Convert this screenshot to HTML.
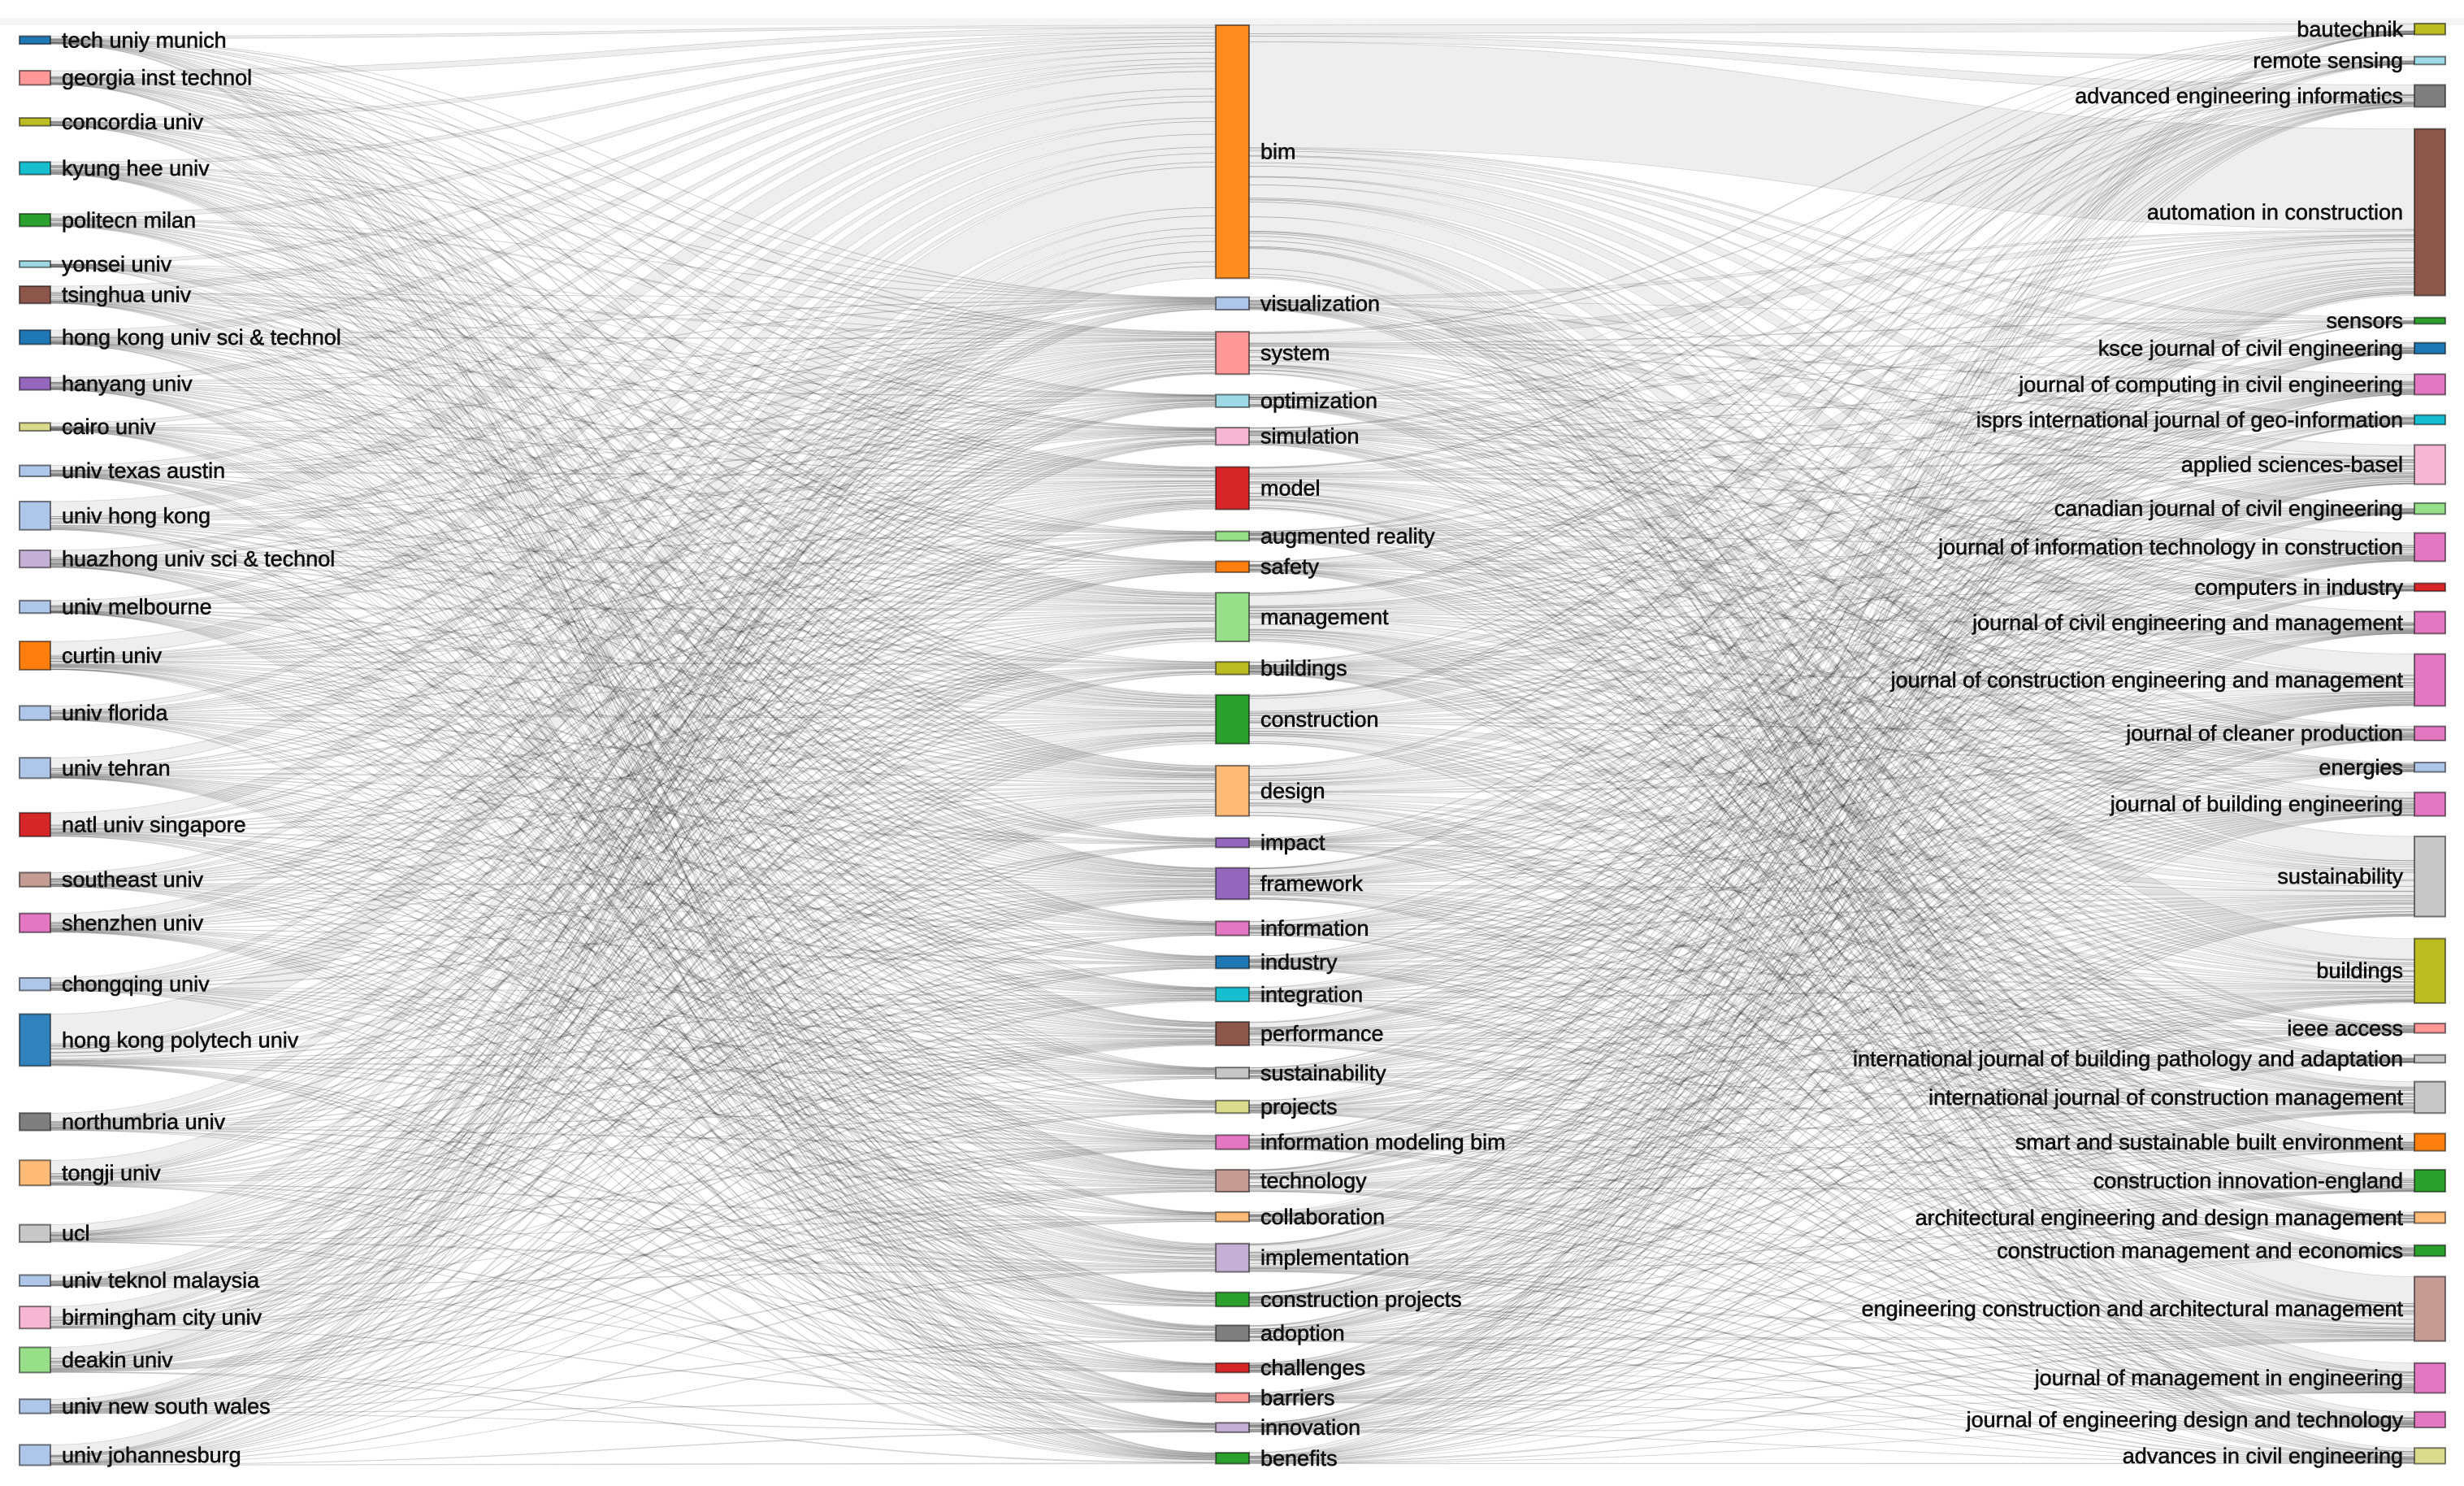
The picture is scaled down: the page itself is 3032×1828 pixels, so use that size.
<!DOCTYPE html>
<html><head><meta charset="utf-8">
<style>
html,body{margin:0;padding:0;background:#fff;}
svg{display:block;}
text{font-family:"Liberation Sans",Arial,sans-serif;font-size:27px;fill:#111;stroke:#111;stroke-width:0.6px;}
</style></head>
<body>
<svg id="s" width="3032" height="1828" viewBox="0 0 3032 1828" xmlns="http://www.w3.org/2000/svg">
<rect x="0" y="0" width="3032" height="1828" fill="#fff"/>
<rect x="0" y="22" width="3032" height="9" fill="#f4f4f4"/>
<g id="links"></g>
<g id="nodes"></g>
</svg>
<script>
var S=1.934;
var L=[
["tech uniy munich",23,28,"#1f77b4"],["georgia inst technol",45,54,"#ff9896"],["concordia univ",75,80,"#bcbd22"],
["kyung hee univ",103,111,"#17becf"],["politecn milan",136,144,"#2ca02c"],["yonsei univ",166,170,"#9edae5"],
["tsinghua univ",182,193,"#8c564b"],["hong kong univ sci & technol",210,219,"#1f77b4"],["hanyang univ",240,248,"#9467bd"],
["cairo univ",269,274,"#dbdb8d"],["univ texas austin",296,303,"#aec7e8"],["univ hong kong",319,337,"#aec7e8"],
["huazhong univ sci & technol",350,361,"#c5b0d5"],["univ melbourne",382,390,"#aec7e8"],["curtin univ",408,426,"#ff7f0e"],
["univ florida",449,458,"#aec7e8"],["univ tehran",482,495,"#aec7e8"],["natl univ singapore",517,532,"#d62728"],
["southeast univ",555,564,"#c49c94"],["shenzhen univ",581,593,"#e377c2"],["chongqing univ",622,630,"#aec7e8"],
["hong kong polytech univ",645,678,"#3182bd"],["northumbria univ",708,719,"#7f7f7f"],["tongji univ",738,754,"#ffbb78"],
["ucl",779,790,"#c7c7c7"],["univ teknol malaysia",811,818,"#aec7e8"],["birmingham city univ",831,845,"#f7b6d2"],
["deakin univ",857,873,"#98df8a"],["univ new south wales",890,899,"#aec7e8"],["univ johannesburg",919,932,"#aec7e8"]];
var M=[
["bim",16,177,"#ff8c1e"],["visualization",189,197,"#aec7e8"],["system",211,238,"#ff9896"],["optimization",251,259,"#9edae5"],
["simulation",272,283,"#f7b6d2"],["model",297,324,"#d62728"],["augmented reality",338,344,"#98df8a"],["safety",357,364,"#ff7f0e"],
["management",377,408,"#98df8a"],["buildings",421,429,"#bcbd22"],["construction",442,473,"#2ca02c"],["design",487,519,"#ffbb78"],
["impact",533,539,"#9467bd"],["framework",552,572,"#9467bd"],["information",586,595,"#e377c2"],["industry",608,616,"#1f77b4"],
["integration",628,637,"#17becf"],["performance",650,665,"#8c564b"],["sustainability",679,686,"#c7c7c7"],["projects",700,708,"#dbdb8d"],
["information modeling bim",722,731,"#e377c2"],["technology",744,758,"#c49c94"],["collaboration",771,777,"#ffbb78"],
["implementation",791,809,"#c5b0d5"],["construction projects",822,831,"#2ca02c"],["adoption",843,853,"#7f7f7f"],
["challenges",867,873,"#d62728"],["barriers",886,892,"#ff9896"],["innovation",905,911,"#c5b0d5"],["benefits",924,931,"#2ca02c"]];
var R=[
["bautechnik",15,22,"#bcbd22"],["remote sensing",36,41,"#9edae5"],["advanced engineering informatics",54,68,"#7f7f7f"],
["automation in construction",82,188,"#8c564b"],["sensors",202,206,"#2ca02c"],["ksce journal of civil engineering",218,225,"#1f77b4"],
["journal of computing in civil engineering",238,251,"#e377c2"],["isprs international journal of geo-information",264,270,"#17becf"],
["applied sciences-basel",283,308,"#f7b6d2"],["canadian journal of civil engineering",320,327,"#98df8a"],
["journal of information technology in construction",339,357,"#e377c2"],["computers in industry",371,376,"#d62728"],
["journal of civil engineering and management",389,403,"#e377c2"],["journal of construction engineering and management",416,449,"#e377c2"],
["journal of cleaner production",462,471,"#e377c2"],["energies",485,491,"#aec7e8"],["journal of building engineering",504,519,"#e377c2"],
["sustainability",532,583,"#c7c7c7"],["buildings",597,638,"#bcbd22"],["ieee access",651,657,"#ff9896"],
["international journal of building pathology and adaptation",671,676,"#c7c7c7"],["international journal of construction management",688,708,"#c7c7c7"],
["smart and sustainable built environment",721,732,"#ff7f0e"],["construction innovation-england",744,758,"#2ca02c"],
["architectural engineering and design management",771,778,"#ffbb78"],["construction management and economics",792,799,"#2ca02c"],
["engineering construction and architectural management",812,853,"#c49c94"],["journal of management in engineering",867,886,"#e377c2"],
["journal of engineering design and technology",898,908,"#e377c2"],["advances in civil engineering",921,931,"#dbdb8d"]];
var seed=12345;function rnd(){seed=(seed*1103515245+12345)%2147483648;return seed/2147483648;}
var NS="http://www.w3.org/2000/svg";
var lg=document.getElementById("links"),ng=document.getElementById("nodes");
function el(t,a,p){var e=document.createElementNS(NS,t);for(var k in a)e.setAttribute(k,a[k]);p.appendChild(e);return e;}
function flows(A,B,x0,x1,boost){
  var n=A.length,m=B.length,w=[],i,j;
  for(i=0;i<n;i++){w[i]=[];for(j=0;j<m;j++){var hb=(B[j][2]-B[j][1]);var ha=(A[i][2]-A[i][1]);
    var p=Math.min(1,0.45+hb/40);w[i][j]=(rnd()<p)?(hb*ha*(0.3+rnd())):0;}}
  boost(w);
  var rs=[],cs=[];for(i=0;i<n;i++){rs[i]=0;for(j=0;j<m;j++)rs[i]+=w[i][j];}
  for(j=0;j<m;j++){cs[j]=0;for(i=0;i<n;i++)cs[j]+=w[i][j];}
  var sy=[],ty=[];for(i=0;i<n;i++)sy[i]=A[i][1]*S;for(j=0;j<m;j++)ty[j]=B[j][1]*S;
  var sPos={};for(i=0;i<n;i++){for(j=0;j<m;j++){if(!w[i][j])continue;var hs=(A[i][2]-A[i][1])*S*w[i][j]/rs[i];sPos[i+"_"+j]=[sy[i],sy[i]+hs];sy[i]+=hs;}}
  var tPos={};for(j=0;j<m;j++){for(i=0;i<n;i++){if(!w[i][j])continue;var ht=(B[j][2]-B[j][1])*S*w[i][j]/cs[j];tPos[i+"_"+j]=[ty[j],ty[j]+ht];ty[j]+=ht;}}
  var mx=(x0+x1)/2;
  for(var k in sPos){var s=sPos[k],t=tPos[k];
    var p="M"+x0+","+s[0].toFixed(1)+"C"+mx+","+s[0].toFixed(1)+" "+mx+","+t[0].toFixed(1)+" "+x1+","+t[0].toFixed(1)+
      "L"+x1+","+t[1].toFixed(1)+"C"+mx+","+t[1].toFixed(1)+" "+mx+","+s[1].toFixed(1)+" "+x0+","+s[1].toFixed(1)+"Z";
    el("path",{d:p,fill:"rgba(0,0,0,0.065)",stroke:"rgba(0,0,0,0.15)","stroke-width":"0.8"},lg);}
}
flows(L,M,62,1495,function(w){for(var i=0;i<w.length;i++){var ha=(L[i][2]-L[i][1]);w[i][0]+=ha*ha*6;}});
flows(M,R,1537,2971,function(w){for(var j=0;j<w[0].length;j++){var hb=(R[j][2]-R[j][1]);w[0][j]+=hb*60*(j==3?4:1);} w[0][0]+=2000;});
function nodes(A,x,w,side){
  for(var i=0;i<A.length;i++){var a=A[i],y0=a[1]*S,y1=a[2]*S;
    el("rect",{x:x,y:y0,width:w,height:y1-y0,fill:a[3],stroke:"rgba(0,0,0,0.5)","stroke-width":"2"},ng);
    var t=el("text",{x:side>0?x+w+14:x-14,y:(y0+y1)/2+9,"text-anchor":side>0?"start":"end"},ng);t.textContent=a[0];}
}
nodes(L,24,38,1);nodes(M,1496,41,1);nodes(R,2971,38,-1);
</script>
</body></html>
